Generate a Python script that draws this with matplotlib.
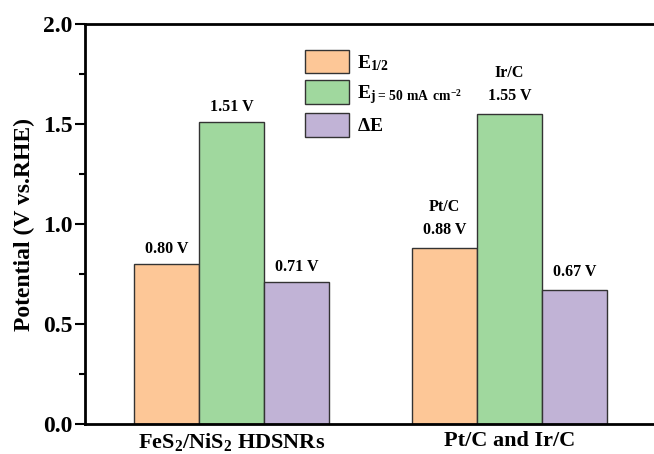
import matplotlib
matplotlib.use('Agg')
import matplotlib.pyplot as plt
import numpy as np
from matplotlib.ticker import MultipleLocator

plt.rcParams['font.family'] = ['Liberation Serif', 'DejaVu Serif']
plt.rcParams['font.weight'] = 'bold'
plt.rcParams['mathtext.default'] = 'regular'

groups = [r'FeS$_2$/NiS$_2$ HDSNRs', 'Pt/C and Ir/C']
series = [r'E$_{1/2}$', r'E$_{j=50\ mA\ cm^{-2}}$', r'$\Delta$E']
e_half = [0.80, 0.88]
e_j50 = [1.51, 1.55]
delta_e = [0.71, 0.67]
ref_names = ['Pt/C', 'Ir/C', None]
colors = ['#FDC797', '#A0D89E', '#C1B3D6']

fig = plt.figure(figsize=(6.54, 4.54), dpi=100)
ax = fig.add_axes([0.13, 0.066, 0.87, 0.881])

x = np.arange(len(groups))
w = 0.234
values = [e_half, e_j50, delta_e]
for i, (vals, name, c) in enumerate(zip(values, series, colors)):
    pos = x + (i - 1) * w
    ax.bar(pos, vals, width=w, color=c, edgecolor='#333333', linewidth=1.0, label=name)
    for j, (px, v) in enumerate(zip(pos, vals)):
        dy = 5 if j == 0 else 7
        ax.annotate(f'{v:.2f} V', (px, v), xytext=(0, dy), textcoords='offset points',
                    ha='center', va='bottom', fontsize=11.5, fontweight='bold')
        # reference catalyst names sit above the commercial bars
        if j == 1 and ref_names[i]:
            ax.annotate(ref_names[i], (px, v), xytext=(0, dy + 17), textcoords='offset points',
                        ha='center', va='bottom', fontsize=11.5, fontweight='bold')

ax.set_xlim(-0.527, 1.52)
ax.set_ylim(0, 2.0)
ax.set_xticks(x)
ax.set_xticklabels(groups, fontsize=16, fontweight='bold')
ax.tick_params(axis='x', length=0, pad=5)
ax.yaxis.set_major_locator(MultipleLocator(0.5))
ax.yaxis.set_minor_locator(MultipleLocator(0.25))
ax.tick_params(axis='y', which='major', length=7, width=1.5, labelsize=17, pad=2)
ax.tick_params(axis='y', which='minor', length=4, width=1.5)
ax.set_ylabel('Potential (V vs.RHE)', fontsize=17, fontweight='bold', labelpad=6)
for s in ['left', 'bottom', 'top']:
    ax.spines[s].set_linewidth(2)
ax.spines['right'].set_visible(False)

ax.legend(loc='upper left', bbox_to_anchor=(0.355, 0.98), frameon=False, fontsize=14,
          handlelength=2.3, handleheight=1.5, labelspacing=0.35, handletextpad=0.4)

fig.savefig('out.png', dpi=100)
